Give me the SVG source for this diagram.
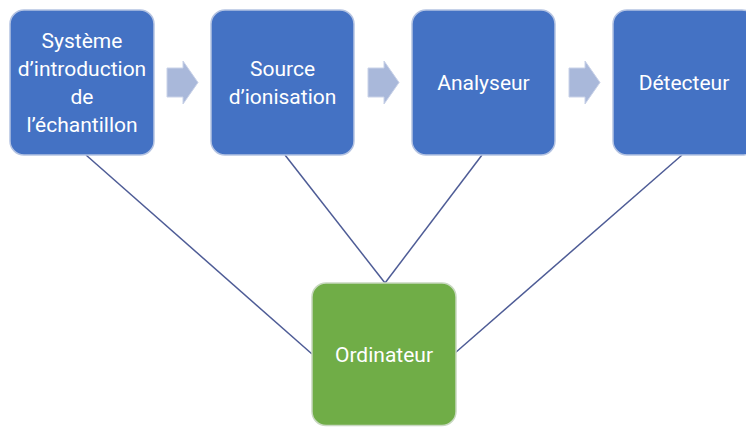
<svg xmlns="http://www.w3.org/2000/svg" width="746" height="427" viewBox="0 0 746 427">
<defs>
<style>
.box{fill:#4472C4;stroke:#b4c3e2;stroke-width:1.5}
.green{fill:#70AD47;stroke:#c8d8c0;stroke-width:1.5}
.arr{fill:#a9b8da;stroke:#c9d2e8;stroke-width:1}
.lbl{font-family:Roboto,"Liberation Sans",sans-serif;font-size:21px;fill:#ffffff;text-anchor:middle}
.con{stroke:#4e5c96;stroke-width:1.5;fill:none}
</style>
<path id="arrow" d="M0 7 H16 V0 L31 21.5 L16 43 V36 H0 Z"/>
</defs>
<rect width="746" height="427" fill="#ffffff"/>
<g id="connectors">
<line class="con" x1="86" y1="155" x2="312" y2="354"/>
<line class="con" x1="285" y1="155" x2="385" y2="283"/>
<line class="con" x1="482" y1="155" x2="385" y2="283"/>
<line class="con" x1="682" y1="155" x2="455" y2="353"/>
<use href="#arrow" class="arr" x="167" y="61"/>
<use href="#arrow" class="arr" x="368" y="61"/>
<use href="#arrow" class="arr" x="569" y="61"/>
</g>
<g id="systeme">
<rect class="box" x="10" y="10" width="144" height="145" rx="14"/>
<text class="lbl" x="82" y="48">Système</text>
<text class="lbl" x="82" y="76">d’introduction</text>
<text class="lbl" x="82" y="104">de</text>
<text class="lbl" x="82" y="132">l’échantillon</text>
</g>
<g id="source">
<rect class="box" x="211" y="10" width="143" height="145" rx="14"/>
<text class="lbl" x="282.5" y="76">Source</text>
<text class="lbl" x="282.5" y="104">d’ionisation</text>
</g>
<g id="analyseur">
<rect class="box" x="412" y="10" width="143" height="145" rx="14"/>
<text class="lbl" x="483.5" y="90">Analyseur</text>
</g>
<g id="detecteur">
<rect class="box" x="613" y="10" width="143" height="145" rx="14"/>
<text class="lbl" x="684" y="90">Détecteur</text>
</g>
<g id="ordinateur">
<rect class="green" x="312" y="283" width="144" height="142.5" rx="14"/>
<text class="lbl" x="384" y="362">Ordinateur</text>
</g>
</svg>
